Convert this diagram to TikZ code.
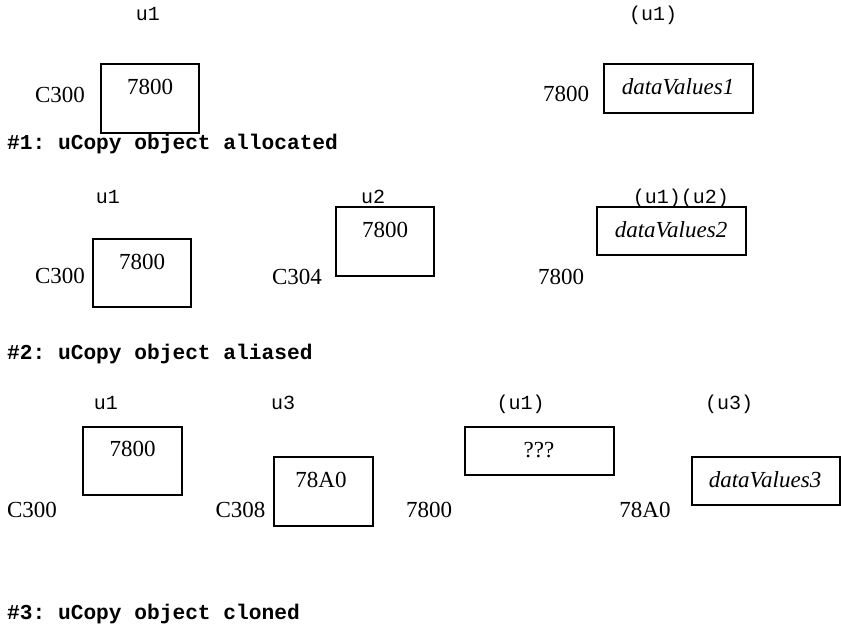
\documentclass[tikz,border=0pt]{standalone}
\usepackage{fontspec}
\setmainfont{Liberation Serif}
\setmonofont{Liberation Mono}
\begin{document}
\begin{tikzpicture}[x=1pt,y=-1pt,
  lbl/.style={inner sep=0pt, anchor=base, font=\fontsize{23}{27}\selectfont},
  ilbl/.style={inner sep=0pt, anchor=base, font=\fontsize{23}{27}\selectfont\itshape},
  var/.style={inner sep=0pt, anchor=base, font=\fontsize{20}{24}\selectfont\ttfamily},
  head/.style={inner sep=0pt, anchor=base west, font=\fontsize{21.2}{24}\selectfont\ttfamily\bfseries},
  box/.style={draw, line width=1.3pt, inner sep=0pt}]
\useasboundingbox (0,0) rectangle (841,627);
\newcommand{\bx}[5]{\node[box, minimum width={#4-#2}, minimum height={#5-#3}] (#1) at ({(#2+#4)/2},{(#3+#5)/2}) {};}
% Section 1
\node[var] (s1u1) at (148,20) {u1};
\bx{s1b1}{101}{64}{199}{133}
\node[lbl] (s1v1) at (150,94) {7800};
\node[lbl] (s1a1) at (60,102) {C300};
\node[var] (s1p1) at (653,20) {(u1)};
\bx{s1b2}{604}{64}{753}{113}
\node[ilbl] (s1d1) at (678,94) {dataValues1};
\node[lbl] (s1a2) at (566,101) {7800};
\node[head] (h1) at (7,149) {\#1: uCopy object allocated};
% Section 2
\node[var] (s2u1) at (108,203) {u1};
\bx{s2b1}{93}{239}{191}{307}
\node[lbl] (s2v1) at (142,269) {7800};
\node[lbl] (s2a1) at (60,283) {C300};
\node[var] (s2u2) at (373,203) {u2};
\bx{s2b2}{336}{207}{434}{276}
\node[lbl] (s2v2) at (385,237) {7800};
\node[lbl] (s2a2) at (297,284) {C304};
\node[var] (s2p) at (681,203) {(u1)(u2)};
\bx{s2b3}{597}{207}{746}{255}
\node[ilbl] (s2d) at (671,237) {dataValues2};
\node[lbl] (s2a3) at (561,284) {7800};
\node[head] (h2) at (7,359) {\#2: uCopy object aliased};
% Section 3
\node[var] (s3u1) at (106,409) {u1};
\bx{s3b1}{83}{427}{182}{495}
\node[lbl] (s3v1) at (132.5,456) {7800};
\node[lbl] (s3a1) at (32,517) {C300};
\node[var] (s3u3) at (283,409) {u3};
\bx{s3b2}{274}{457}{373}{526}
\node[lbl] (s3v2) at (321,487) {78A0};
\node[lbl] (s3a2) at (240.5,517) {C308};
\node[lbl] (s3a3) at (429,517) {7800};
\node[var] (s3p1) at (520.5,409) {(u1)};
\bx{s3b3}{465}{427}{614}{475}
\node[lbl] (s3q) at (539,457) {???};
\node[var] (s3p3) at (729,409) {(u3)};
\bx{s3b4}{692}{457}{840}{505}
\node[ilbl] (s3d) at (765,487) {dataValues3};
\node[lbl] (s3a4) at (645,517) {78A0};
\node[head] (h3) at (7,619) {\#3: uCopy object cloned};
\end{tikzpicture}
\end{document}
